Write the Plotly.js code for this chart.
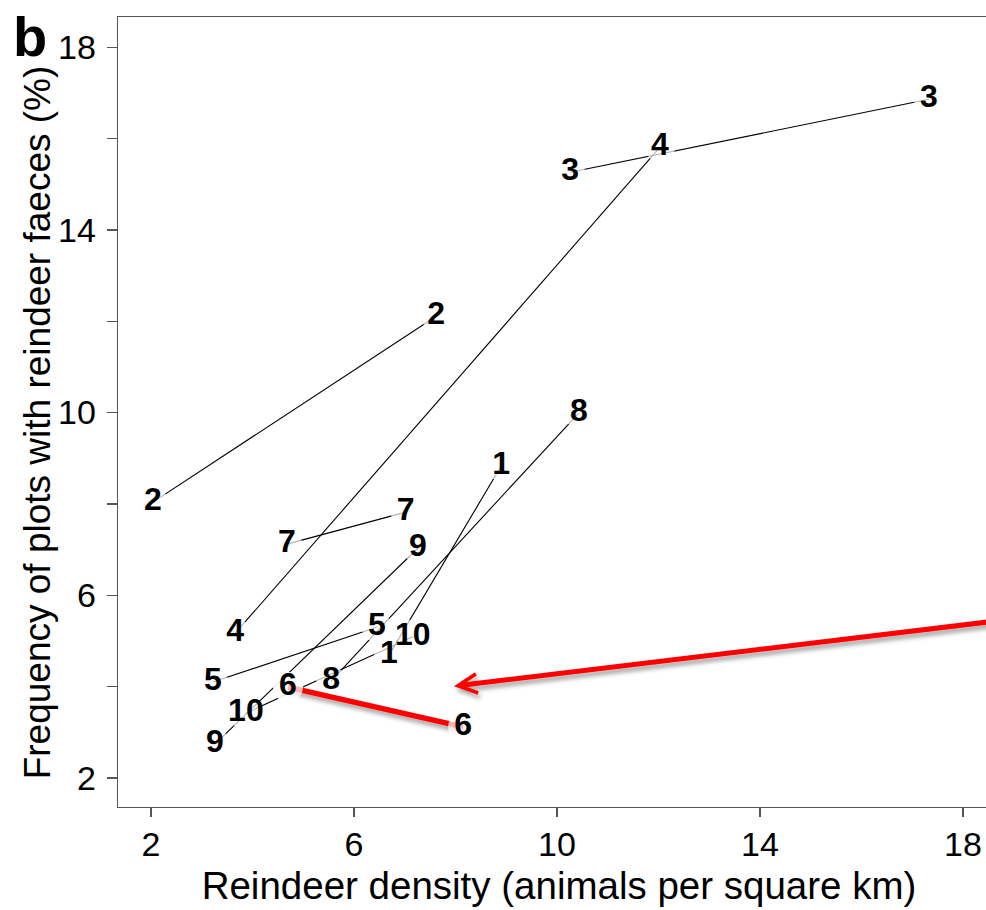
<!DOCTYPE html>
<html>
<head>
<meta charset="utf-8">
<script src="https://cdn.plot.ly/plotly-3.0.1.min.js"></script>
<style>
  html, body { margin: 0; padding: 0; background: #fff; overflow: hidden; }
  #chart { width: 1010px; height: 910px; }
</style>
</head>
<body>
<div id="chart"></div>
<script>
// ---- data ----
const pairLabels = ['1', '2', '3', '4', '5', '6', '7', '8', '9', '10'];
const densityA = [6.69, 2.04, 10.26, 3.66, 3.22, 4.70, 4.68, 5.55, 3.26, 3.87];
const faecesA  = [4.69, 8.04, 15.26, 5.17, 4.10, 3.99, 7.12, 4.12, 2.74, 3.42];
const densityB = [8.90, 7.62, 17.33, 12.03, 6.45, 8.15, 7.02, 10.43, 7.26, 7.16];
const faecesB  = [8.83, 12.11, 16.86, 15.81, 5.30, 3.12, 7.82, 9.99, 7.03, 5.09];
const highlightedPair = '6';

const xTickValues = [2, 6, 10, 14, 18];
const yTickValues = [2, 6, 10, 14, 18];

const xTitle = 'Reindeer density (animals per square km)';
const yTitle = 'Frequency of plots with reindeer faeces (%)';
const panelLetter = 'b';

// arrow annotation (tip and tail, in data units)
const arrowTip  = [7.97, 4.01];
const arrowTail = [18.75, 5.45];

// ---- build traces ----
const FONT = 'Liberation Sans, Arial, Helvetica, sans-serif';
const AXIS_COLOR = '#555555';

function segments(idxs) {
  const xs = [], ys = [];
  idxs.forEach(i => {
    xs.push(densityA[i], densityB[i], null);
    ys.push(faecesA[i], faecesB[i], null);
  });
  return { xs, ys };
}
function points(idxs) {
  const xs = [], ys = [], t = [];
  idxs.forEach(i => {
    xs.push(densityA[i], densityB[i]);
    ys.push(faecesA[i], faecesB[i]);
    t.push(pairLabels[i], pairLabels[i]);
  });
  return { xs, ys, t };
}

const allIdx = pairLabels.map((_, i) => i);
const hiIdx = allIdx.filter(i => pairLabels[i] === highlightedPair);
const normIdx = allIdx.filter(i => pairLabels[i] !== highlightedPair);

const segNorm = segments(normIdx);
const ptsAll = points(allIdx);
const segHi = segments(hiIdx);
const ptsHi = points(hiIdx);

const maskSize = t => t.map(s => s.length > 1 ? 34 : 30);

const labelFont = { family: FONT, size: 32, color: '#000', weight: 'bold' };

const traces = [
  { type: 'scatter', mode: 'lines', x: segNorm.xs, y: segNorm.ys,
    line: { color: '#000', width: 1.1 }, hoverinfo: 'skip', showlegend: false },
  { type: 'scatter', mode: 'markers', x: ptsAll.xs, y: ptsAll.ys,
    marker: { color: '#fff', size: maskSize(ptsAll.t), line: { width: 0 } },
    hoverinfo: 'skip', showlegend: false, cliponaxis: false },
  { type: 'scatter', mode: 'text', x: ptsAll.xs, y: ptsAll.ys, text: ptsAll.t,
    textposition: 'middle center', textfont: labelFont,
    hoverinfo: 'skip', showlegend: false, cliponaxis: false },
  { type: 'scatter', mode: 'lines', x: segHi.xs, y: segHi.ys,
    line: { color: '#ff0000', width: 5.5 }, hoverinfo: 'skip', showlegend: false },
  { type: 'scatter', mode: 'markers', x: ptsHi.xs, y: ptsHi.ys,
    marker: { color: '#fff', size: maskSize(ptsHi.t), line: { width: 0 } },
    hoverinfo: 'skip', showlegend: false, cliponaxis: false },
  { type: 'scatter', mode: 'text', x: ptsHi.xs, y: ptsHi.ys, text: ptsHi.t,
    textposition: 'middle center', textfont: labelFont,
    hoverinfo: 'skip', showlegend: false, cliponaxis: false }
];

const layout = {
  width: 1010, height: 910,
  margin: { l: 118, r: 10, t: 17, b: 103, pad: 0 },
  paper_bgcolor: '#fff', plot_bgcolor: '#fff',
  showlegend: false,
  font: { family: FONT, color: '#000' },
  xaxis: {
    range: [1.35, 18.73],
    tickmode: 'array', tickvals: xTickValues, ticktext: xTickValues.map(String),
    ticks: 'outside', ticklen: 9, tickwidth: 1.3, tickcolor: AXIS_COLOR,
    showline: true, linecolor: AXIS_COLOR, linewidth: 1.3, mirror: true,
    showgrid: false, zeroline: false,
    tickfont: { family: FONT, size: 34, color: '#000' },
    ticklabelstandoff: -2,
    title: { text: xTitle, font: { family: FONT, size: 38.5, color: '#000' }, standoff: 10 }
  },
  yaxis: {
    range: [1.365, 18.66],
    tickmode: 'array', tickvals: yTickValues, ticktext: yTickValues.map(String),
    ticks: 'outside', ticklen: 10, tickwidth: 1.3, tickcolor: AXIS_COLOR,
    minor: { dtick: 2, tick0: 0, ticks: 'outside', ticklen: 10, tickwidth: 1.3, tickcolor: AXIS_COLOR, showgrid: false },
    showline: true, linecolor: AXIS_COLOR, linewidth: 1.3, mirror: true,
    showgrid: false, zeroline: false,
    tickfont: { family: FONT, size: 34, color: '#000' },
    ticklabelstandoff: 4,
    title: { text: '' }
  },
  annotations: [
    { xref: 'paper', yref: 'paper', x: -0.100, y: 0.975, xanchor: 'center', yanchor: 'middle',
      text: '<b>' + panelLetter + '</b>', showarrow: false,
      font: { family: FONT, size: 56, color: '#000' } },
    { xref: 'paper', yref: 'paper', x: -0.0918, y: 0.487, xanchor: 'center', yanchor: 'middle',
      text: yTitle, textangle: -90, showarrow: false,
      font: { family: FONT, size: 37, color: '#000' } },
    { x: arrowTip[0], y: arrowTip[1], ax: arrowTail[0], ay: arrowTail[1],
      xref: 'x', yref: 'y', axref: 'x', ayref: 'y', text: '',
      showarrow: true, arrowhead: 5, arrowsize: 0.75, arrowwidth: 5, arrowcolor: '#ff0000' }
  ]
};

Plotly.newPlot('chart', traces, layout, { staticPlot: true, displayModeBar: false }).then(gd => {
  const svg = gd.querySelector('svg.main-svg');
  const ns = 'http://www.w3.org/2000/svg';
  let defs = svg.querySelector('defs');
  if (!defs) { defs = document.createElementNS(ns, 'defs'); svg.insertBefore(defs, svg.firstChild); }
  const f = document.createElementNS(ns, 'filter');
  f.setAttribute('id', 'redShadow');
  f.setAttribute('x', '-20%'); f.setAttribute('y', '-50%');
  f.setAttribute('width', '140%'); f.setAttribute('height', '200%');
  const ds = document.createElementNS(ns, 'feDropShadow');
  ds.setAttribute('dx', '2'); ds.setAttribute('dy', '4');
  ds.setAttribute('stdDeviation', '2');
  ds.setAttribute('flood-color', '#000'); ds.setAttribute('flood-opacity', '0.35');
  f.appendChild(ds); defs.appendChild(f);
  const traceGroups = gd.querySelectorAll('.scatterlayer .trace');
  if (traceGroups[3]) traceGroups[3].querySelectorAll('path.js-line').forEach(p => p.setAttribute('filter', 'url(#redShadow)'));
  gd.querySelectorAll('.annotation-arrow-g').forEach(g => g.setAttribute('filter', 'url(#redShadow)'));
});
</script>
</body>
</html>
